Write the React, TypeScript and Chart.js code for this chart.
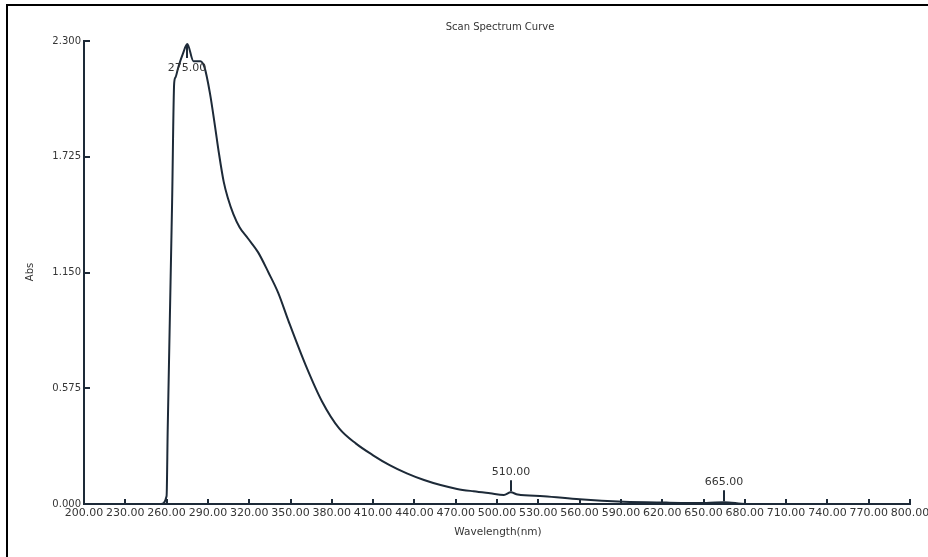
import React, { useEffect, useRef } from "react";
import { Chart, registerables } from "chart.js";

Chart.register(...registerables);

// Absorbance scan, 200–800 nm
const wavelengths = [
  200, 256, 260, 260.8, 264, 265.5, 266.5, 268.5, 272, 275, 279.5, 284.5, 287.5,
  291.5, 295.2, 298, 301.5, 304.5, 308.5, 313, 319, 326.5, 334, 341, 348.5, 361,
  373, 385.5, 397.6, 410, 422, 434.5, 447, 459, 471, 483, 495, 505, 510, 515,
  534, 560, 592, 623, 652, 665, 681, 800,
];
const absorbance = [
  0, 0, 0.04, 0.37, 1.5, 2.09, 2.12, 2.17, 2.24, 2.285, 2.2, 2.2, 2.17, 2.04,
  1.875, 1.743, 1.6, 1.52, 1.44, 1.375, 1.32, 1.25, 1.15, 1.05, 0.91, 0.69,
  0.508, 0.374, 0.3, 0.242, 0.193, 0.152, 0.119, 0.094, 0.075, 0.063, 0.053,
  0.045, 0.058, 0.047, 0.039, 0.023, 0.011, 0.007, 0.005, 0.009, 0, 0,
];

// Marked peaks (nm)
const peakWavelengths = [275, 510, 665];

// Axis ticks
const xTicks = [
  200, 230, 260, 290, 320, 350, 380, 410, 440, 470, 500, 530, 560, 590, 620, 650,
  680, 710, 740, 770, 800,
];
const yTicks = [0, 0.575, 1.15, 1.725, 2.3];

const FONT = "'DejaVu Sans', Verdana, sans-serif";
const INK = "#1d2a38";
const TEXT = "#353535";

const decorPlugin = {
  id: "spectrumDecor",
  afterDraw(chart: any) {
    const { ctx, chartArea, scales } = chart;
    const xs = scales.x;
    const ys = scales.y;
    ctx.save();

    // page frame (top and left edges)
    ctx.fillStyle = "#000";
    ctx.fillRect(6, 4, 922, 2);
    ctx.fillRect(6, 4, 2, 553);

    // inward tick marks
    ctx.strokeStyle = INK;
    ctx.lineWidth = 2;
    for (const v of xTicks) {
      const px = Math.round(xs.getPixelForValue(v));
      ctx.beginPath();
      ctx.moveTo(px, chartArea.bottom);
      ctx.lineTo(px, chartArea.bottom - 5);
      ctx.stroke();
    }
    for (const v of yTicks) {
      const py = Math.round(ys.getPixelForValue(v));
      ctx.beginPath();
      ctx.moveTo(chartArea.left, py);
      ctx.lineTo(chartArea.left + 6, py);
      ctx.stroke();
    }

    const cx = (chartArea.left + chartArea.right) / 2;
    ctx.fillStyle = TEXT;
    ctx.textAlign = "center";
    ctx.textBaseline = "middle";

    // title
    ctx.font = `10px ${FONT}`;
    ctx.fillText("Scan Spectrum Curve", cx + 3, 27);

    // axis titles
    ctx.font = `10.5px ${FONT}`;
    ctx.fillText("Wavelength(nm)", cx + 1, 532);
    ctx.save();
    ctx.translate(30, 272);
    ctx.rotate(-Math.PI / 2);
    ctx.font = `10px ${FONT}`;
    ctx.fillText("Abs", 0, 0);
    ctx.restore();

    // peak markers
    ctx.font = `11px ${FONT}`;
    for (const wl of peakWavelengths) {
      const val = absorbance[wavelengths.indexOf(wl)];
      const px = Math.round(xs.getPixelForValue(wl));
      const py = ys.getPixelForValue(val);
      ctx.beginPath();
      if (py - 30 < chartArea.top) {
        ctx.moveTo(px, py);
        ctx.lineTo(px, py + 14);
        ctx.stroke();
        ctx.fillText(wl.toFixed(2), px, py + 24);
      } else {
        ctx.moveTo(px, py - 1);
        ctx.lineTo(px, py - 12);
        ctx.stroke();
        ctx.fillText(wl.toFixed(2), px, py - 20);
      }
    }
    ctx.restore();
  },
};

export default function App() {
  const canvasRef = useRef<HTMLCanvasElement | null>(null);

  useEffect(() => {
    document.body.style.margin = "0";
    document.body.style.background = "#fff";
    const canvas = canvasRef.current;
    if (!canvas) return;

    const points = wavelengths.map((w, i) => ({ x: w, y: absorbance[i] }));

    const chart = new Chart(canvas, {
      type: "line",
      data: {
        datasets: [
          {
            data: points,
            borderColor: INK,
            borderWidth: 2,
            pointRadius: 0,
            fill: false,
            cubicInterpolationMode: "monotone",
          },
        ],
      },
      options: {
        animation: false,
        responsive: false,
        events: [],
        layout: { padding: { top: 41, right: 18, left: 0, bottom: 0 } },
        plugins: {
          legend: { display: false },
          title: { display: false },
          tooltip: { enabled: false },
        },
        scales: {
          x: {
            type: "linear",
            min: 200,
            max: 800,
            afterBuildTicks: (s: any) => {
              s.ticks = xTicks.map((v) => ({ value: v }));
            },
            afterFit: (s: any) => {
              s.height = 53;
              s.paddingRight = 0;
              s.paddingLeft = 0;
            },
            ticks: {
              autoSkip: false,
              maxRotation: 0,
              padding: 3,
              color: TEXT,
              font: { family: FONT, size: 11 },
              callback: (v: any) => Number(v).toFixed(2),
            },
            grid: { display: false, drawTicks: false },
            border: { display: true, color: INK, width: 2 },
          },
          y: {
            type: "linear",
            min: 0,
            max: 2.3,
            afterBuildTicks: (s: any) => {
              s.ticks = yTicks.map((v) => ({ value: v }));
            },
            afterFit: (s: any) => {
              s.width = 84;
            },
            ticks: {
              padding: 3,
              color: TEXT,
              font: { family: FONT, size: 10 },
              callback: (v: any) => Number(v).toFixed(3),
            },
            grid: { display: false, drawTicks: false },
            border: { display: true, color: INK, width: 2 },
          },
        },
      },
      plugins: [decorPlugin],
    } as any);

    return () => chart.destroy();
  }, []);

  return (
    <div style={{ width: 928, height: 557, background: "#fff" }}>
      <canvas ref={canvasRef} width={928} height={557} style={{ display: "block" }} />
    </div>
  );
}
